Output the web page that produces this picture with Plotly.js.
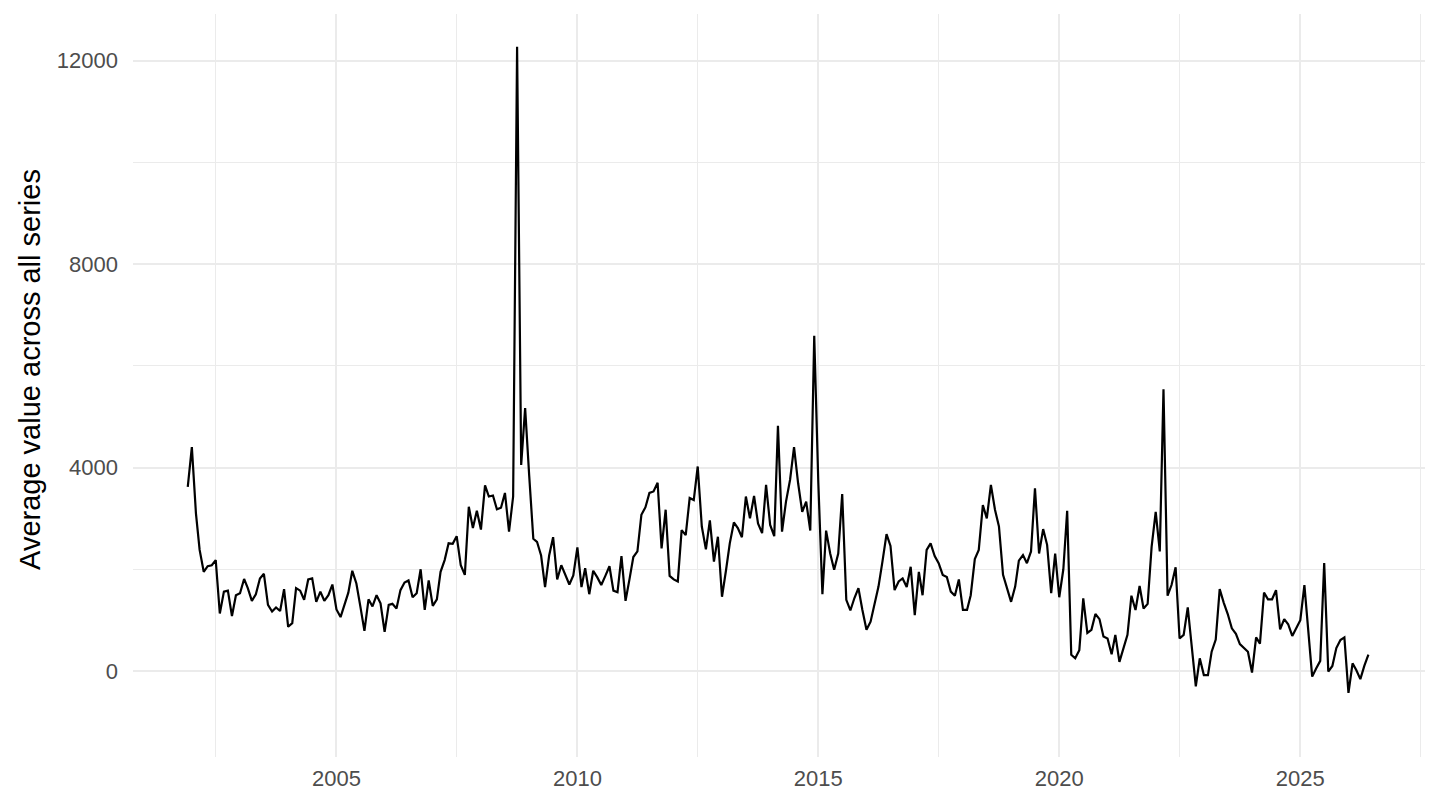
<!DOCTYPE html>
<html>
<head>
<meta charset="utf-8">
<script src="https://cdn.plot.ly/plotly-3.0.1.min.js"></script>
<style>html,body{margin:0;padding:0;background:#fff;}#chart{width:1440px;height:810px;}</style>
</head>
<body>
<div id="chart"></div>
<script>
// Monthly series starting December 2001
const startYear = 2001;
const startMonth = 12;
const avgValues = [
 3620,4400,3100,2380,1950,2060,2080,2180,1130,1560,1580,1080,1490,1530,1810,1630,1380,1510,1820,1910,
 1300,1170,1250,1180,1610,870,940,1630,1580,1400,1800,1820,1360,1560,1380,1490,1700,1210,1060,1300,
 1540,1970,1720,1270,790,1410,1270,1490,1330,770,1300,1320,1230,1590,1740,1780,1450,1530,2000,1200,
 1780,1280,1410,1950,2180,2510,2500,2650,2080,1890,3230,2810,3150,2780,3650,3430,3450,3180,3210,3500,
 2740,3430,12270,4050,5170,3830,2600,2540,2270,1650,2270,2630,1800,2080,1900,1700,1880,2430,1650,2020,
 1510,1970,1840,1690,1870,2060,1580,1550,2260,1380,1820,2240,2350,3070,3220,3500,3530,3700,2410,3170,
 1870,1800,1760,2770,2670,3400,3360,4020,2840,2390,2960,2150,2640,1460,1990,2510,2920,2810,2630,3430,
 3000,3440,2900,2710,3660,2870,2650,4820,2740,3330,3760,4400,3690,3130,3330,2760,6590,3700,1510,2760,
 2310,1990,2310,3480,1400,1190,1430,1630,1200,810,970,1300,1660,2150,2690,2460,1590,1760,1820,1650,
 2050,1100,1950,1490,2380,2510,2260,2120,1890,1850,1560,1480,1800,1200,1200,1490,2200,2380,3260,3000,
 3660,3170,2840,1890,1630,1360,1660,2170,2280,2120,2350,3590,2310,2790,2480,1530,2310,1450,2000,3150,
 320,250,410,1430,750,810,1120,1020,680,640,330,710,180,450,710,1480,1200,1670,1230,1320,
 2440,3130,2350,5540,1480,1690,2040,640,710,1250,510,-300,250,-80,-80,380,620,1610,1340,1120,
 840,730,530,450,380,-30,660,540,1540,1410,1410,1590,820,1020,920,690,840,1000,1690,750,
 -110,50,200,2120,-10,100,450,610,660,-430,150,20,-160,100,320
];
const xMajorTicks = ['2005-01-01','2010-01-01','2015-01-01','2020-01-01','2025-01-01'];
const xMajorLabels = ['2005','2010','2015','2020','2025'];
const xMinorTicks = ['2002-07-02','2007-07-02','2012-07-02','2017-07-02','2022-07-02','2027-07-02'];
const yMajorTicks = [0,4000,8000,12000];
const yMajorLabels = ['0','4000','8000','12000'];
const yMinorTicks = [2000,6000,10000];
const yTitle = 'Average value across all series';

const dates = [];
for (let i = 0; i < avgValues.length; i++) {
  const m0 = (startMonth - 1) + i;
  const y = startYear + Math.floor(m0 / 12);
  const m = (m0 % 12) + 1;
  dates.push(y + '-' + String(m).padStart(2, '0') + '-01');
}

const grid = '#EBEBEB';
const fam = 'Liberation Sans, Arial, sans-serif';
const tickFont = {family: fam, size: 22, color: '#4D4D4D'};

const trace = {
  x: dates, y: avgValues, type: 'scatter', mode: 'lines',
  line: {color: '#000000', width: 2.2}, hoverinfo: 'x+y'
};

const layout = {
  width: 1440, height: 810,
  paper_bgcolor: '#ffffff', plot_bgcolor: '#ffffff',
  margin: {l: 133, r: 15, t: 14, b: 53},
  showlegend: false,
  xaxis: {
    type: 'date', range: ['2000-10-12', '2027-08-04'],
    tickmode: 'array', tickvals: xMajorTicks, ticktext: xMajorLabels,
    showgrid: true, gridcolor: grid, gridwidth: 2.2,
    zeroline: false, showline: false, ticks: '', ticklabelstandoff: 6,
    tickfont: tickFont,
    minor: {tickmode: 'array', tickvals: xMinorTicks, showgrid: true, gridcolor: grid, gridwidth: 1.1, ticks: ''}
  },
  yaxis: {
    range: [-1690, 12914],
    tickmode: 'array', tickvals: yMajorTicks, ticktext: yMajorLabels,
    showgrid: true, gridcolor: grid, gridwidth: 2.2,
    zeroline: false, showline: false, ticks: '', ticklabelstandoff: 14,
    tickfont: tickFont,
    minor: {tickmode: 'array', tickvals: yMinorTicks, showgrid: true, gridcolor: grid, gridwidth: 1.1, ticks: ''}
  },
  annotations: [{
    text: yTitle, textangle: -90, showarrow: false,
    xref: 'paper', yref: 'paper', x: -0.0797, y: 0.521,
    xanchor: 'center', yanchor: 'middle',
    font: {family: fam, size: 29, color: '#000000'}
  }]
};

Plotly.newPlot('chart', [trace], layout, {displayModeBar: false, responsive: false});
</script>
</body>
</html>
